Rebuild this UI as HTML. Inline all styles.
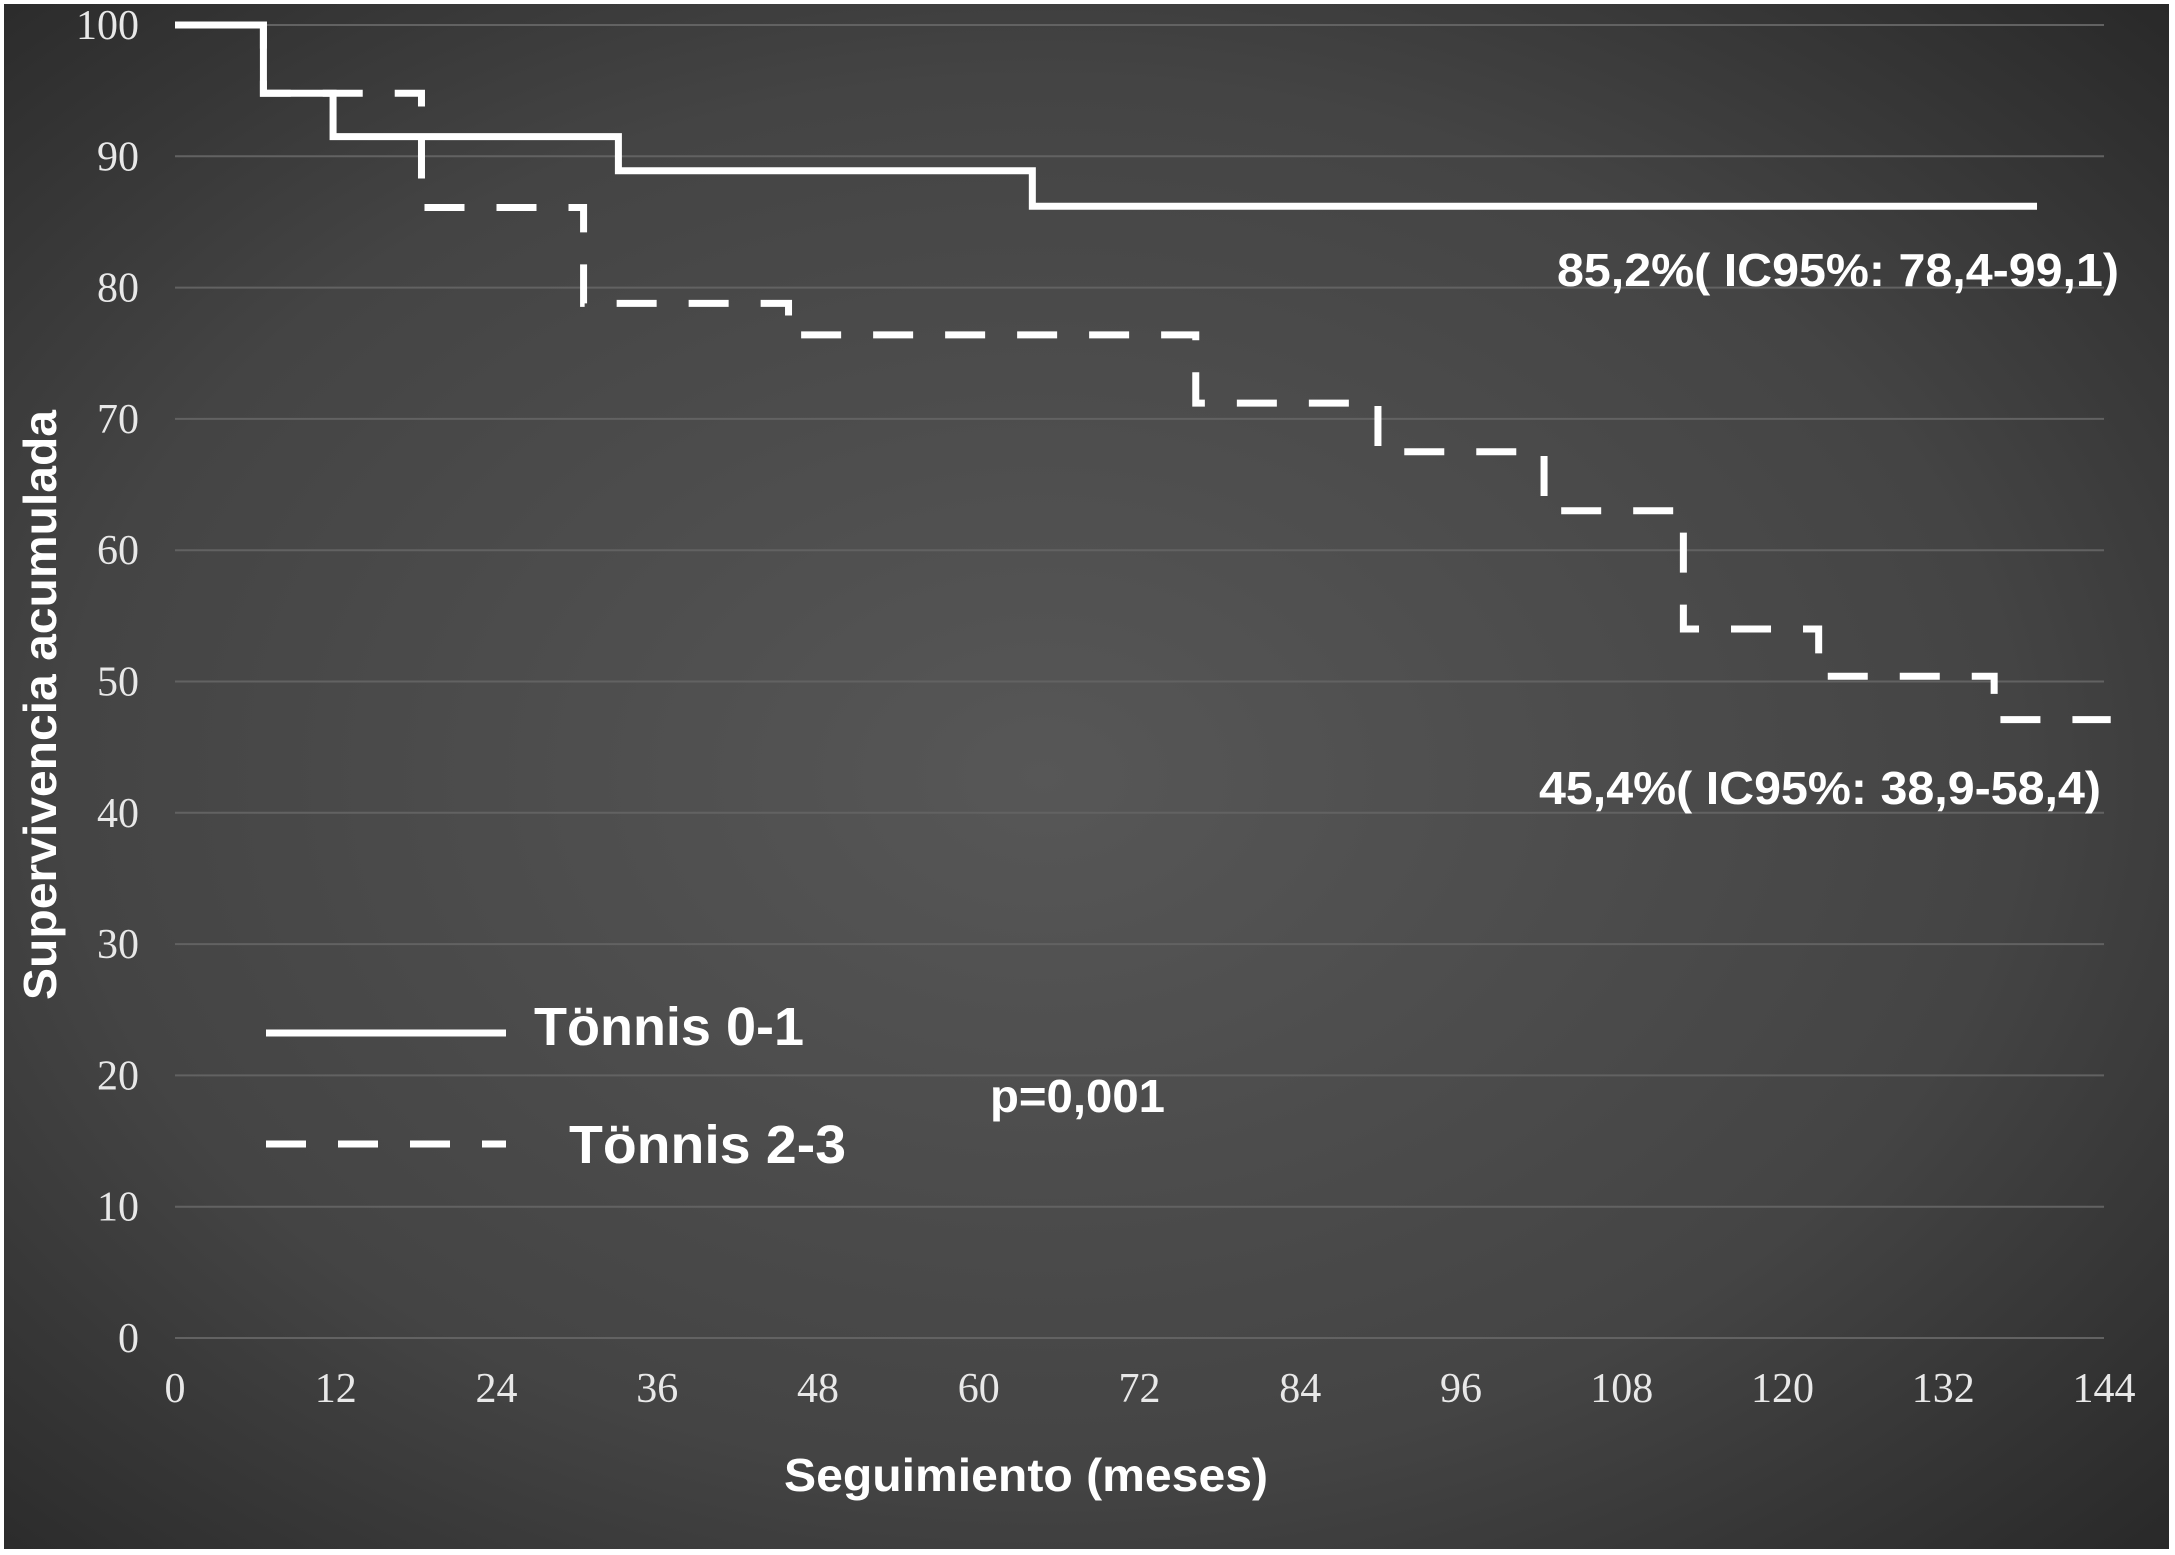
<!DOCTYPE html>
<html><head><meta charset="utf-8">
<style>
html,body{margin:0;padding:0;background:#fff;}
svg{display:block;}
text{font-family:"Liberation Sans Narrow","Liberation Sans",sans-serif;font-weight:bold;fill:#fff;}
.tick{font-family:"Liberation Serif",serif;font-weight:normal;fill:#e8e8e8;font-size:42px;}
</style></head>
<body>
<svg id="chart" width="2175" height="1555" viewBox="0 0 2175 1555">
<defs>
<radialGradient id="bg" cx="0.48" cy="0.5" r="0.75">
<stop offset="0" stop-color="#575757"/>
<stop offset="0.6" stop-color="#444"/>
<stop offset="1" stop-color="#262626"/>
</radialGradient>
</defs>
<rect x="0" y="0" width="2175" height="1555" fill="#fff"/>
<rect x="4" y="4" width="2165" height="1545" fill="url(#bg)"/>
<g id="grid"></g>
<g id="yticks"></g>
<g id="xticks"></g>
<g id="series"></g>
<text x="1026" y="1491" text-anchor="middle" font-size="46" textLength="484" lengthAdjust="spacingAndGlyphs">Seguimiento (meses)</text>
<text transform="translate(56,705) rotate(-90)" text-anchor="middle" font-size="46" textLength="590" lengthAdjust="spacingAndGlyphs">Supervivencia acumulada</text>
<text x="2119" y="286" text-anchor="end" font-size="46" textLength="562" lengthAdjust="spacingAndGlyphs">85,2%( IC95%: 78,4-99,1)</text>
<text x="2101" y="804" text-anchor="end" font-size="46" textLength="562" lengthAdjust="spacingAndGlyphs">45,4%( IC95%: 38,9-58,4)</text>
<text x="990" y="1112" font-size="46" textLength="175" lengthAdjust="spacingAndGlyphs">p=0,001</text>
<g>
<line x1="266" y1="1033" x2="506" y2="1033" stroke="#fff" stroke-width="7"/>
<text x="534" y="1045" font-size="54" textLength="270" lengthAdjust="spacingAndGlyphs">Tönnis 0-1</text>
<line x1="266" y1="1144" x2="506" y2="1144" stroke="#fff" stroke-width="7" stroke-dasharray="40 32"/>
<text x="569" y="1163" font-size="54" textLength="277" lengthAdjust="spacingAndGlyphs">Tönnis 2-3</text>
</g>
</svg>
<script>
const yTicks = [0,10,20,30,40,50,60,70,80,90,100];
const xTicks = [0,12,24,36,48,60,72,84,96,108,120,132,144];
// Tönnis 0-1 step curve: event times (months) and survival after each step
const solidTimes = [0, 6.6, 11.8, 33.1, 64.0];
const solidSurv  = [100, 94.8, 91.5, 88.9, 86.2];
const solidEnd = 139;
// Tönnis 2-3
const dashTimes = [0, 6.6, 18.4, 30.5, 45.8, 76.2, 89.8, 102.2, 112.6, 122.7, 135.8];
const dashSurv  = [100, 94.8, 86.1, 78.8, 76.4, 71.2, 67.5, 63.0, 54.0, 50.4, 47.1];
const dashEnd = 144.5;

const X0=175, X1=2104, Y0=1338, Y1=25;
const xs = m => X0 + (m/144)*(X1-X0);
const ys = v => Y0 - (v/100)*(Y0-Y1);
const NS='http://www.w3.org/2000/svg';
function mk(tag, attrs, parent){const e=document.createElementNS(NS,tag);for(const k in attrs)e.setAttribute(k,attrs[k]);parent.appendChild(e);return e;}

const grid=document.getElementById('grid');
const yt=document.getElementById('yticks');
yTicks.forEach(v=>{
  const l=mk('line',{x1:X0,x2:X1,y1:ys(v),y2:ys(v),stroke:'#626262','stroke-width':2},grid);
  
  
  const t=mk('text',{x:139,y:ys(v)+14,'text-anchor':'end',class:'tick'},yt);
  t.textContent=v;
  
  
});
const xt=document.getElementById('xticks');
xTicks.forEach(m=>{
  const t=mk('text',{x:xs(m),y:1402,'text-anchor':'middle',class:'tick'},xt);
  t.textContent=m;
  
  
});
function stepPath(times,surv,end){
  let d='M'+xs(times[0])+' '+ys(surv[0]);
  for(let i=1;i<times.length;i++){d+=' H'+xs(times[i])+' V'+ys(surv[i]);}
  d+=' H'+xs(end);
  return d;
}
const ser=document.getElementById('series');
const pd=mk('path',{d:stepPath(dashTimes,dashSurv,dashEnd),fill:'none',stroke:'#fff','stroke-width':7,'stroke-dasharray':'40 32'},ser);


const ps=mk('path',{d:stepPath(solidTimes,solidSurv,solidEnd),fill:'none',stroke:'#fff','stroke-width':7},ser);


</script>
</body></html>
